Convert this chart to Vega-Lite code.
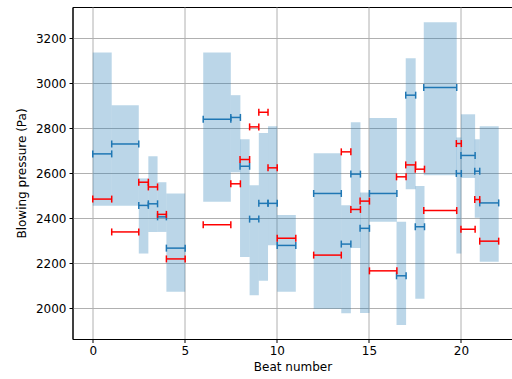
{
  "$schema": "https://vega.github.io/schema/vega-lite/v6.json",
  "width": 440,
  "height": 332,
  "autosize": {"type": "none"},
  "padding": {"left": 72.5, "top": 7, "right": 0, "bottom": 40},
  "background": "white",
  "config": {
    "view": {"stroke": "black", "strokeWidth": 1},
    "axis": {
      "labelFont": "DejaVu Sans", "labelFontSize": 12, "labelColor": "black",
      "titleFont": "DejaVu Sans", "titleFontSize": 12, "titleFontWeight": "normal", "titleColor": "black",
      "domainColor": "black", "tickColor": "black", "tickSize": 3.5, "labelPadding": 3,
      "gridColor": "#b0b0b0", "gridWidth": 1, "gridOpacity": 1
    }
  },
  "data": {"values": [
    {"s": 0, "e": 1.03, "lo": 2456, "hi": 3138, "b": 2687, "r": 2486},
    {"s": 1.03, "e": 2.5, "lo": 2456, "hi": 2903, "b": 2731, "r": 2340},
    {"s": 2.5, "e": 3.02, "lo": 2244, "hi": 2578, "b": 2458, "r": 2561},
    {"s": 3.02, "e": 3.52, "lo": 2340, "hi": 2677, "b": 2465, "r": 2540},
    {"s": 3.52, "e": 4.0, "lo": 2340, "hi": 2561, "b": 2407, "r": 2418},
    {"s": 4.0, "e": 5.02, "lo": 2074, "hi": 2511, "b": 2268, "r": 2220},
    {"s": 6.0, "e": 7.5, "lo": 2474, "hi": 3138, "b": 2841, "r": 2372},
    {"s": 7.5, "e": 8.02, "lo": 2605, "hi": 2948, "b": 2849, "r": 2554},
    {"s": 8.0, "e": 8.52, "lo": 2229, "hi": 2752, "b": 2632, "r": 2662},
    {"s": 8.52, "e": 9.02, "lo": 2059, "hi": 2548, "b": 2397, "r": 2807},
    {"s": 9.02, "e": 9.52, "lo": 2123, "hi": 2780, "b": 2467, "r": 2872},
    {"s": 9.52, "e": 10.02, "lo": 2281, "hi": 2810, "b": 2467, "r": 2625},
    {"s": 10.02, "e": 11.03, "lo": 2074, "hi": 2415, "b": 2280, "r": 2312},
    {"s": 12.0, "e": 13.5, "lo": 1998, "hi": 2690, "b": 2511, "r": 2237},
    {"s": 13.5, "e": 14.02, "lo": 1978, "hi": 2459, "b": 2286, "r": 2696},
    {"s": 14.02, "e": 14.54, "lo": 2269, "hi": 2828, "b": 2597, "r": 2440},
    {"s": 14.52, "e": 15.03, "lo": 1980, "hi": 2515, "b": 2356, "r": 2477},
    {"s": 15.03, "e": 16.52, "lo": 2385, "hi": 2846, "b": 2511, "r": 2167},
    {"s": 16.5, "e": 17.02, "lo": 1926, "hi": 2385, "b": 2145, "r": 2585},
    {"s": 17.0, "e": 17.54, "lo": 2530, "hi": 3112, "b": 2948, "r": 2638},
    {"s": 17.52, "e": 18.02, "lo": 2043, "hi": 2544, "b": 2363, "r": 2619},
    {"s": 17.98, "e": 19.77, "lo": 2592, "hi": 3272, "b": 2982, "r": 2435},
    {"s": 19.75, "e": 20.02, "lo": 2244, "hi": 2760, "b": 2600, "r": 2733},
    {"s": 20.0, "e": 20.77, "lo": 2580, "hi": 2863, "b": 2680, "r": 2352},
    {"s": 20.75, "e": 21.02, "lo": 2403, "hi": 2752, "b": 2610, "r": 2484},
    {"s": 21.02, "e": 22.05, "lo": 2207, "hi": 2810, "b": 2469, "r": 2299}
  ]},
  "layer": [
    {
      "mark": {"type": "rect", "color": "#1f77b4", "opacity": 0.3},
      "encoding": {
        "x": {"field": "s", "type": "quantitative", "scale": {"domain": [-1.1, 22.8], "nice": false, "zero": false},
              "axis": {"title": "Beat number", "values": [0, 5, 10, 15, 20], "format": "d", "titlePadding": 5}},
        "x2": {"field": "e"},
        "y": {"field": "lo", "type": "quantitative", "scale": {"domain": [1864, 3340], "nice": false, "zero": false},
              "axis": {"title": "Blowing pressure (Pa)", "values": [2000, 2200, 2400, 2600, 2800, 3000, 3200], "format": "d", "titlePadding": 7}},
        "y2": {"field": "hi"}
      }
    },
    {
      "mark": {"type": "rule", "color": "#1f77b4", "strokeWidth": 1.5},
      "encoding": {"x": {"field": "s", "type": "quantitative"}, "x2": {"field": "e"}, "y": {"field": "b", "type": "quantitative"}}
    },
    {
      "mark": {"type": "tick", "orient": "vertical", "color": "#1f77b4", "size": 7, "thickness": 1.5, "opacity": 1},
      "encoding": {"x": {"field": "s", "type": "quantitative"}, "y": {"field": "b", "type": "quantitative"}}
    },
    {
      "mark": {"type": "tick", "orient": "vertical", "color": "#1f77b4", "size": 7, "thickness": 1.5, "opacity": 1},
      "encoding": {"x": {"field": "e", "type": "quantitative"}, "y": {"field": "b", "type": "quantitative"}}
    },
    {
      "mark": {"type": "rule", "color": "#ff0000", "strokeWidth": 1.5},
      "encoding": {"x": {"field": "s", "type": "quantitative"}, "x2": {"field": "e"}, "y": {"field": "r", "type": "quantitative"}}
    },
    {
      "mark": {"type": "tick", "orient": "vertical", "color": "#ff0000", "size": 7, "thickness": 1.5, "opacity": 1},
      "encoding": {"x": {"field": "s", "type": "quantitative"}, "y": {"field": "r", "type": "quantitative"}}
    },
    {
      "mark": {"type": "tick", "orient": "vertical", "color": "#ff0000", "size": 7, "thickness": 1.5, "opacity": 1},
      "encoding": {"x": {"field": "e", "type": "quantitative"}, "y": {"field": "r", "type": "quantitative"}}
    }
  ]
}
